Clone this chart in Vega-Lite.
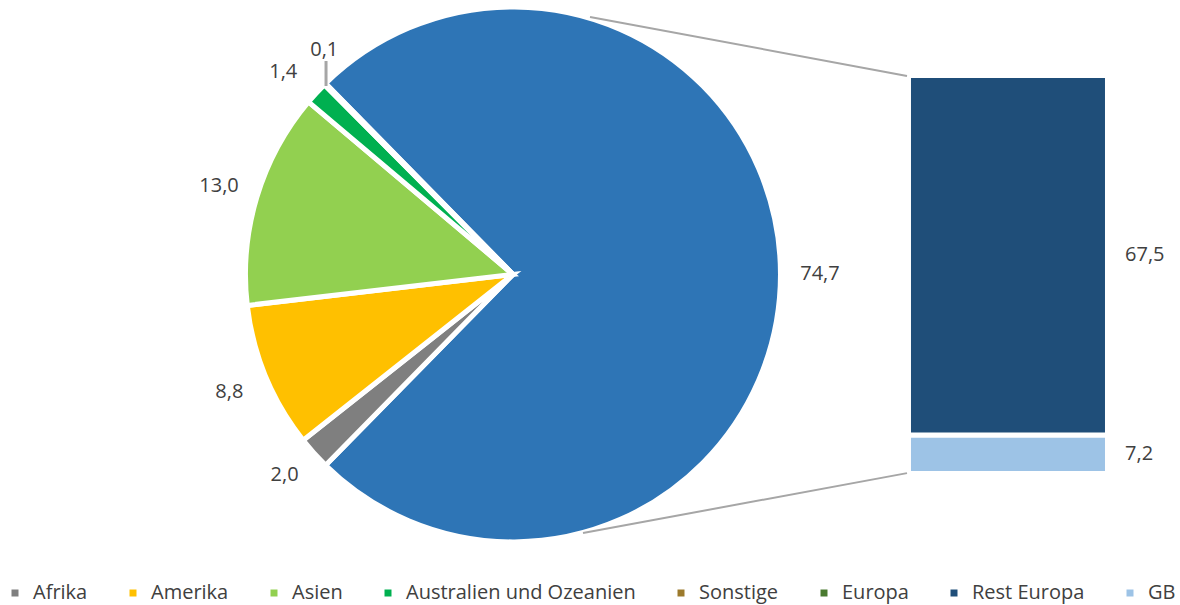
{
  "$schema": "https://vega.github.io/schema/vega-lite/v6.json",
  "width": 1180,
  "height": 605,
  "padding": 0,
  "autosize": {"type": "none"},
  "config": {
    "view": {"stroke": null},
    "font": "Open Sans",
    "locale": {"number": {"decimal": ",", "thousands": ".", "grouping": [3], "currency": ["", " €"]}}
  },
  "datasets": {
    "anteile": [
      {"region": "Europa", "wert": 74.7, "teil": "Kreis", "rang": 1},
      {"region": "Afrika", "wert": 2.0, "teil": "Kreis", "rang": 2},
      {"region": "Amerika", "wert": 8.8, "teil": "Kreis", "rang": 3},
      {"region": "Asien", "wert": 13.0, "teil": "Kreis", "rang": 4},
      {"region": "Australien und Ozeanien", "wert": 1.4, "teil": "Kreis", "rang": 5},
      {"region": "Sonstige", "wert": 0.1, "teil": "Kreis", "rang": 6},
      {"region": "GB", "wert": 7.2, "teil": "Balken", "rang": 1},
      {"region": "Rest Europa", "wert": 67.5, "teil": "Balken", "rang": 2}
    ]
  },
  "layer": [
    {
      "data": {"name": "anteile"},
      "transform": [{"filter": "datum.teil === 'Kreis'"}],
      "mark": {"type": "arc", "outerRadius": 267.5, "stroke": "white", "strokeWidth": 5},
      "encoding": {
        "theta": {"field": "wert", "type": "quantitative", "stack": true, "scale": {"domain": [0, 100], "range": [-0.776, 5.5072]}},
        "order": {"field": "rang", "type": "quantitative"},
        "x": {"datum": 96.28, "type": "quantitative", "scale": {"domain": [0, 221.47], "nice": false, "zero": false}, "axis": null},
        "y": {"datum": 37.35, "type": "quantitative", "scale": {"domain": [-24.7, 88.85], "nice": false, "zero": false}, "axis": null},
        "color": {
          "condition": {"test": "datum.region === 'Europa'", "value": "#2E75B6"},
          "field": "region",
          "type": "nominal",
          "scale": {
            "domain": ["Afrika", "Amerika", "Asien", "Australien und Ozeanien", "Sonstige", "Europa", "Rest Europa", "GB"],
            "range": ["#7F7F7F", "#FFC000", "#92D050", "#00B050", "#9C7A2C", "#4A7A30", "#1F4E79", "#9DC3E6"]
          },
          "legend": {
            "orient": "none",
            "legendX": 5,
            "legendY": 583,
            "direction": "horizontal",
            "title": null,
            "symbolType": "square",
            "symbolSize": 49,
            "symbolStrokeWidth": 0,
            "labelFontSize": 20,
            "labelColor": "#404040",
            "labelFont": "Open Sans",
            "labelLimit": 400,
            "columnPadding": 35,
            "labelOffset": 8,
            "padding": 0
          }
        }
      }
    },
    {
      "data": {"name": "anteile"},
      "transform": [{"filter": "datum.teil === 'Kreis'"}],
      "mark": {
        "type": "text",
        "radius": 307,
        "fontSize": 20,
        "color": "#404040",
        "align": "center",
        "baseline": "middle",
        "dx": {"expr": "datum.region === 'Sonstige' ? 27 : datum.region === 'Australien und Ozeanien' ? -4 : 0"},
        "dy": {"expr": "datum.region === 'Sonstige' ? -6 : datum.region === 'Australien und Ozeanien' ? 6 : datum.region === 'Afrika' ? -5 : 0"}
      },
      "encoding": {
        "theta": {"field": "wert", "type": "quantitative", "stack": true},
        "order": {"field": "rang", "type": "quantitative"},
        "x": {"datum": 96.28, "type": "quantitative"},
        "y": {"datum": 37.35, "type": "quantitative"},
        "text": {"field": "wert", "type": "quantitative", "format": ".1f"}
      }
    },
    {
      "data": {"name": "anteile"},
      "transform": [
        {"filter": "datum.teil === 'Balken'"},
        {"stack": "wert", "groupby": ["teil"], "sort": [{"field": "rang", "order": "ascending"}], "as": ["unten", "oben"]}
      ],
      "layer": [
        {
          "mark": {"type": "rect", "stroke": "white", "strokeWidth": 5},
          "encoding": {
            "y": {"field": "unten", "type": "quantitative"},
            "y2": {"field": "oben"},
            "x": {"datum": 170.51, "type": "quantitative"},
            "x2": {"datum": 207.86},
            "color": {"field": "region", "type": "nominal"}
          }
        },
        {
          "transform": [{"calculate": "(datum.unten + datum.oben) / 2", "as": "mitte"}],
          "mark": {"type": "text", "fontSize": 20, "color": "#404040", "align": "left", "baseline": "middle"},
          "encoding": {
            "y": {"field": "mitte", "type": "quantitative"},
            "x": {"datum": 211.15, "type": "quantitative"},
            "text": {"field": "wert", "type": "quantitative", "format": ".1f"}
          }
        }
      ]
    },
    {
      "data": {"values": [{"linie": "oben"}]},
      "mark": {"type": "rule", "color": "#A6A6A6", "strokeWidth": 2},
      "encoding": {
        "x": {"datum": 110.74, "type": "quantitative"},
        "y": {"datum": 85.66, "type": "quantitative"},
        "x2": {"datum": 170.23},
        "y2": {"datum": 74.6}
      }
    },
    {
      "data": {"values": [{"linie": "unten"}]},
      "mark": {"type": "rule", "color": "#A6A6A6", "strokeWidth": 2},
      "encoding": {
        "x": {"datum": 109.42, "type": "quantitative"},
        "y": {"datum": -11.19, "type": "quantitative"},
        "x2": {"datum": 170.23},
        "y2": {"datum": 0.05}
      }
    },
    {
      "data": {"values": [{"linie": "Sonstige"}]},
      "mark": {"type": "rule", "color": "#A6A6A6", "strokeWidth": 3},
      "encoding": {
        "x": {"datum": 61.19, "type": "quantitative"},
        "y": {"datum": 77.4, "type": "quantitative"},
        "y2": {"datum": 72.71}
      }
    }
  ]
}
